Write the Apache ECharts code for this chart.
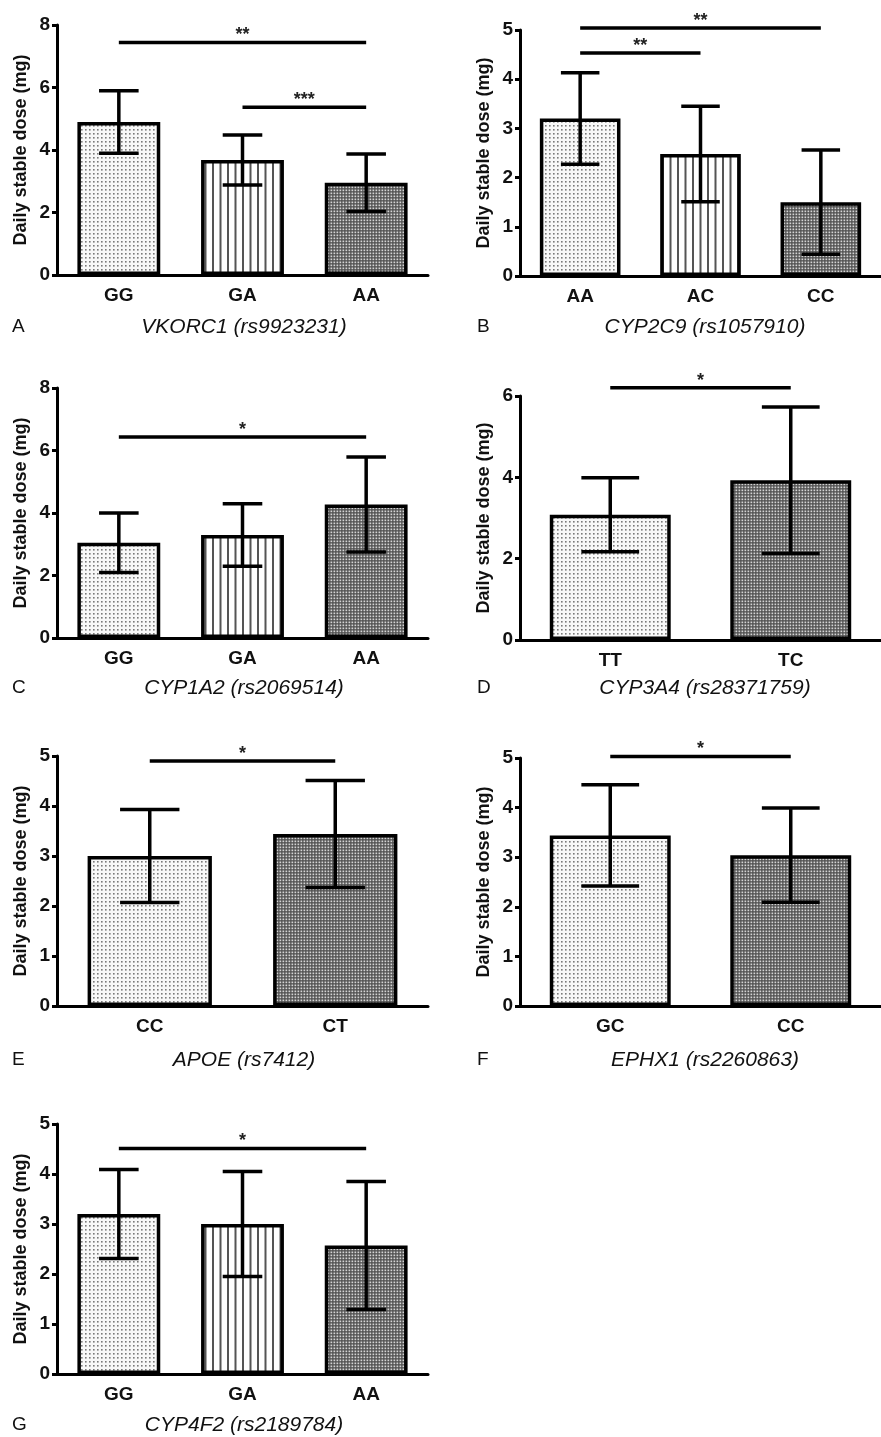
<!DOCTYPE html>
<html>
<head>
<meta charset="utf-8">
<script src="https://cdn.jsdelivr.net/npm/echarts@6/dist/echarts.min.js"></script>
<style>
html,body{margin:0;padding:0;background:#fff;}
#chart{width:881px;height:1437px;}
</style>
</head>
<body>
<div id="chart"></div>
<script>
// ---------------- DATA ----------------
const panelLetters = ['A', 'B', 'C', 'D', 'E', 'F', 'G'];
const geneTitles = ['VKORC1 (rs9923231)', 'CYP2C9 (rs1057910)', 'CYP1A2 (rs2069514)', 'CYP3A4 (rs28371759)', 'APOE (rs7412)', 'EPHX1 (rs2260863)', 'CYP4F2 (rs2189784)'];

const catsA = ['GG', 'GA', 'AA'];
const meanA = [4.9, 3.68, 2.95];
const sdA = [1.0, 0.8, 0.92];
const sigA = [[0, 2, 7.44, '**'], [1, 2, 5.37, '***']];

const catsB = ['AA', 'AC', 'CC'];
const meanB = [3.2, 2.48, 1.5];
const sdB = [0.93, 0.97, 1.06];
const sigB = [[0, 2, 5.04, '**'], [0, 1, 4.53, '**']];

const catsC = ['GG', 'GA', 'AA'];
const meanC = [3.05, 3.3, 4.27];
const sdC = [0.95, 1.0, 1.52];
const sigC = [[0, 2, 6.43, '*']];

const catsD = ['TT', 'TC'];
const meanD = [3.08, 3.93];
const sdD = [0.91, 1.8];
const sigD = [[0, 1, 6.2, '*']];

const catsE = ['CC', 'CT'];
const meanE = [3.0, 3.44];
const sdE = [0.93, 1.07];
const sigE = [[0, 1, 4.9, '*']];

const catsF = ['GC', 'CC'];
const meanF = [3.44, 3.04];
const sdF = [1.02, 0.95];
const sigF = [[0, 1, 5.03, '*']];

const catsG = ['GG', 'GA', 'AA'];
const meanG = [3.2, 3.0, 2.57];
const sdG = [0.89, 1.05, 1.28];
const sigG = [[0, 2, 4.51, '*']];

const yMaxes = [8, 5, 8, 6, 5, 5, 5];
const yIntervals = [2, 1, 2, 2, 1, 1, 1];
const yAxisTitle = 'Daily stable dose (mg)';

const cats = [catsA, catsB, catsC, catsD, catsE, catsF, catsG];
const means = [meanA, meanB, meanC, meanD, meanE, meanF, meanG];
const sds = [sdA, sdB, sdC, sdD, sdE, sdF, sdG];
const sigs = [sigA, sigB, sigC, sigD, sigE, sigF, sigG];

// ---------------- LAYOUT ----------------
const FONT = '"Liberation Sans", Arial, Helvetica, sans-serif';
const grids = [
  {left: 57, top: 25, width: 371, height: 250},
  {left: 520, top: 30, width: 369, height: 246},
  {left: 57, top: 388, width: 371, height: 250},
  {left: 520, top: 396, width: 369, height: 244},
  {left: 57, top: 756, width: 371, height: 250},
  {left: 520, top: 758, width: 369, height: 248},
  {left: 57, top: 1124, width: 371, height: 250}
];
const letterPos = [[12, 327], [477, 327], [12, 688], [477, 688], [12, 1060], [477, 1060], [12, 1425]];
const titlePos = [[244, 327], [705, 327], [244, 688], [705, 688], [244, 1060], [705, 1060], [244, 1425]];

// ---------------- PATTERNS ----------------
function makeTile(w, h, draw) {
  const c = document.createElement('canvas');
  c.width = w; c.height = h;
  const ctx = c.getContext('2d');
  draw(ctx);
  return c;
}
const dotTile = makeTile(4, 4, ctx => {
  ctx.fillStyle = '#f8f8f8'; ctx.fillRect(0, 0, 4, 4);
  ctx.fillStyle = '#7a7a7a'; ctx.fillRect(1, 1, 1.6, 1.6);
});
const stripeTile = makeTile(15, 4, ctx => {
  ctx.fillStyle = '#ffffff'; ctx.fillRect(0, 0, 15, 4);
  ctx.fillStyle = '#555555';
  ctx.fillRect(2, 0, 2, 4);
  ctx.fillRect(9.5, 0, 2, 4);
});
const checkTile = makeTile(3, 3, ctx => {
  ctx.fillStyle = '#505050'; ctx.fillRect(0, 0, 3, 3);
  ctx.fillStyle = '#d4d4d4'; ctx.fillRect(0.5, 0.5, 1.7, 1.7);
});
const pat = t => ({image: t, repeat: 'repeat'});
function patternFor(j, n) {
  if (j === 0) return pat(dotTile);
  if (n === 2) return pat(checkTile);
  return j === 1 ? pat(stripeTile) : pat(checkTile);
}

// ---------------- OPTION ----------------
const xAxes = [], yAxes = [], series = [], graphics = [];
for (let i = 0; i < 7; i++) {
  xAxes.push({
    type: 'category', gridIndex: i, data: cats[i],
    axisLine: {lineStyle: {color: '#000', width: 3}},
    axisTick: {alignWithLabel: true, length: 6, lineStyle: {color: '#000', width: 3}},
    axisLabel: {color: '#111', fontWeight: 'bold', fontSize: 19, fontFamily: FONT, margin: 11},
    splitLine: {show: false}
  });
  yAxes.push({
    type: 'value', gridIndex: i, min: 0, max: yMaxes[i], interval: yIntervals[i],
    name: yAxisTitle, nameLocation: 'middle', nameRotate: 90, nameGap: 27,
    nameTextStyle: {color: '#111', fontWeight: 'bold', fontSize: 18, fontFamily: FONT},
    axisLine: {show: true, lineStyle: {color: '#000', width: 3}},
    axisTick: {show: true, length: 5, lineStyle: {color: '#000', width: 3}},
    axisLabel: {color: '#111', fontWeight: 'bold', fontSize: 19, fontFamily: FONT, margin: 7},
    splitLine: {show: false}
  });
  const n = cats[i].length;
  series.push({
    type: 'bar', xAxisIndex: i, yAxisIndex: i, barWidth: '67%', silent: true,
    itemStyle: {borderColor: '#000', borderWidth: 3.5},
    data: means[i].map((v, j) => ({value: v, itemStyle: {color: patternFor(j, n)}})),
    z: 2
  });
  series.push({
    type: 'custom', xAxisIndex: i, yAxisIndex: i, silent: true, clip: false, z: 5,
    data: means[i].map((m, j) => [j, m, sds[i][j]]),
    renderItem: function (params, api) {
      const x = api.value(0), m = api.value(1), s = api.value(2);
      const top = api.coord([x, m + s]);
      const bot = api.coord([x, m - s]);
      const half = api.size([1, 0])[0] * 0.16;
      const st = {stroke: '#000', lineWidth: 3.5};
      return {type: 'group', children: [
        {type: 'line', shape: {x1: top[0], y1: top[1], x2: bot[0], y2: bot[1]}, style: st},
        {type: 'line', shape: {x1: top[0] - half, y1: top[1], x2: top[0] + half, y2: top[1]}, style: st},
        {type: 'line', shape: {x1: bot[0] - half, y1: bot[1], x2: bot[0] + half, y2: bot[1]}, style: st}
      ]};
    }
  });
  const sg = sigs[i];
  series.push({
    type: 'custom', xAxisIndex: i, yAxisIndex: i, silent: true, clip: false, z: 5,
    data: sg.map(b => [b[0], b[2], b[1]]),
    renderItem: function (params, api) {
      const a = api.value(0), y = api.value(1), b = api.value(2);
      const p1 = api.coord([a, y]);
      const p2 = api.coord([b, y]);
      const label = sg[params.dataIndex][3];
      return {type: 'group', children: [
        {type: 'line', shape: {x1: p1[0], y1: p1[1], x2: p2[0], y2: p2[1]}, style: {stroke: '#000', lineWidth: 3.5}},
        {type: 'text', style: {text: label, x: (p1[0] + p2[0]) / 2, y: p1[1] - 7, align: 'center', verticalAlign: 'middle',
          font: 'bold 18px ' + FONT, fill: '#222'}}
      ]};
    }
  });
  graphics.push({type: 'text', x: letterPos[i][0], y: letterPos[i][1],
    style: {text: panelLetters[i], font: '19px ' + FONT, fill: '#111', align: 'left', verticalAlign: 'middle'}});
  graphics.push({type: 'text', x: titlePos[i][0], y: titlePos[i][1],
    style: {text: geneTitles[i], font: 'italic 21px ' + FONT, fill: '#111', align: 'center', verticalAlign: 'middle'}});
}

const chart = echarts.init(document.getElementById('chart'), null, {renderer: 'canvas'});
chart.setOption({
  animation: false,
  backgroundColor: '#fff',
  grid: grids,
  xAxis: xAxes,
  yAxis: yAxes,
  series: series,
  graphic: graphics
});
</script>
</body>
</html>
